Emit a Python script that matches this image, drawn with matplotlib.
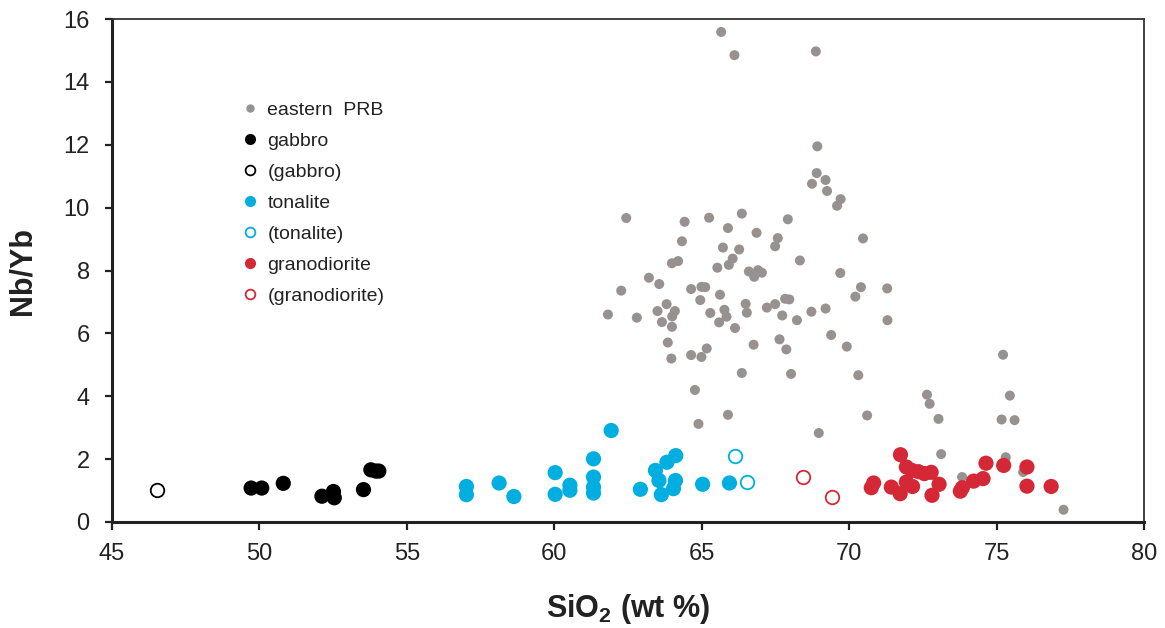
import matplotlib
matplotlib.use("Agg")
import matplotlib.pyplot as plt
from matplotlib.lines import Line2D

plt.rcParams['font.family'] = ['Liberation Sans', 'DejaVu Sans']
plt.rcParams['mathtext.default'] = 'regular'

# ---- data ----
prb_x = [65.66, 66.11, 68.87, 68.92, 68.90, 69.20, 68.74, 69.25, 69.71, 69.59,
         66.36, 62.44, 64.42, 65.25, 67.92, 65.89, 66.86, 67.58, 67.49, 70.47,
         64.33, 65.72, 66.27, 66.05, 65.92, 65.53, 64.20, 63.99, 68.33, 66.60,
         66.91, 67.04, 66.78, 69.70, 63.21, 63.56, 62.27, 64.64, 64.99, 65.12,
         70.40, 71.29, 70.21, 64.95, 65.62, 67.83, 67.97, 63.81, 66.49, 67.49,
         67.21, 69.20, 68.72, 63.50, 64.09, 64.00, 65.77, 66.53, 65.29, 65.84,
         67.73, 61.82, 62.80, 63.65, 63.99, 65.59, 68.23, 71.30, 66.13, 69.39,
         63.85, 66.76, 67.64, 67.87, 69.92, 65.17, 64.64, 64.99, 63.97, 66.36,
         68.03, 70.31, 64.77, 64.89, 65.89, 68.97, 70.61, 75.22, 72.64, 72.73,
         73.03, 75.45, 75.17, 75.61, 73.12, 75.31, 73.83, 75.90, 77.27]
prb_y = [15.59, 14.85, 14.97, 11.95, 11.10, 10.88, 10.76, 10.53, 10.27, 10.06,
         9.81, 9.67, 9.55, 9.68, 9.63, 9.35, 9.20, 9.03, 8.77, 9.02,
         8.93, 8.73, 8.67, 8.38, 8.18, 8.09, 8.30, 8.23, 8.32, 7.97,
         8.01, 7.93, 7.80, 7.92, 7.77, 7.57, 7.36, 7.41, 7.48, 7.47,
         7.47, 7.43, 7.17, 7.06, 7.23, 7.10, 7.08, 6.93, 6.94, 6.93,
         6.82, 6.79, 6.69, 6.71, 6.71, 6.54, 6.75, 6.66, 6.65, 6.53,
         6.57, 6.60, 6.50, 6.36, 6.21, 6.35, 6.42, 6.42, 6.17, 5.95,
         5.71, 5.64, 5.81, 5.49, 5.58, 5.52, 5.31, 5.25, 5.20, 4.74,
         4.71, 4.67, 4.20, 3.12, 3.41, 2.83, 3.39, 5.32, 4.05, 3.76,
         3.28, 4.02, 3.26, 3.24, 2.16, 2.06, 1.43, 1.59, 0.39]

gabbro_x = [49.72, 50.08, 50.81, 52.12, 52.51, 52.54, 53.53, 53.78, 53.95, 54.05]
gabbro_y = [1.08, 1.08, 1.23, 0.82, 0.97, 0.77, 1.03, 1.66, 1.62, 1.62]
gabbro_open_x = [46.52]
gabbro_open_y = [1.03]

tonalite_x = [57.02, 57.02, 58.13, 58.63, 60.03, 60.03, 60.53, 60.53, 61.33, 61.33,
              61.33, 61.33, 61.93, 62.92, 63.43, 63.55, 63.63, 63.82, 64.12, 64.11,
              64.04, 65.03, 65.94]
tonalite_y = [1.13, 0.87, 1.24, 0.81, 1.57, 0.88, 1.17, 1.01, 2.01, 1.43,
              1.11, 0.92, 2.91, 1.04, 1.64, 1.32, 0.87, 1.90, 2.11, 1.32,
              1.06, 1.20, 1.24]
tonalite_open_x = [66.13, 66.53]
tonalite_open_y = [2.09, 1.27]

grano_x = [70.83, 70.75, 71.74, 71.94, 72.13, 71.43, 71.73, 71.94, 72.15, 72.35,
           72.55, 72.78, 73.05, 72.81, 73.77, 73.84, 74.22, 74.54, 74.64, 75.24,
           76.03, 76.03, 76.85]
grano_y = [1.24, 1.09, 2.14, 1.75, 1.64, 1.11, 0.90, 1.27, 1.13, 1.60,
           1.54, 1.58, 1.20, 0.85, 0.98, 1.09, 1.30, 1.38, 1.87, 1.80,
           1.75, 1.14, 1.13]
grano_open_x = [68.42, 69.43]
grano_open_y = [1.43, 0.78]

x_ticks = [45, 50, 55, 60, 65, 70, 75, 80]
y_ticks = [0, 2, 4, 6, 8, 10, 12, 14, 16]

GRAY = '#97928f'
BLUE = '#00aedf'
RED = '#d52836'

fig = plt.figure(figsize=(11.65, 6.28), dpi=100)
ax = fig.add_axes([0.0961, 0.1688, 0.8859, 0.8009])

ax.scatter(prb_x, prb_y, s=52, color=GRAY, edgecolors='none', zorder=2)
big = 120
ax.scatter(gabbro_x, gabbro_y, s=big, color='black', edgecolors='none', zorder=3)
ax.scatter(gabbro_open_x, gabbro_open_y, s=95, facecolors='white', edgecolors='black', linewidths=1.3, zorder=3)
ax.scatter(tonalite_x, tonalite_y, s=big, color=BLUE, edgecolors='none', zorder=3)
ax.scatter(tonalite_open_x, tonalite_open_y, s=95, facecolors='white', edgecolors=BLUE, linewidths=1.3, zorder=3)
ax.scatter(grano_x, grano_y, s=big, color=RED, edgecolors='none', zorder=3)
ax.scatter(grano_open_x, grano_open_y, s=95, facecolors='white', edgecolors=RED, linewidths=1.3, zorder=3)

ax.set_xlim(45, 80)
ax.set_ylim(0, 16)
ax.set_xticks(x_ticks)
ax.set_yticks(y_ticks)
ax.tick_params(axis='both', labelsize=17, colors='#222222', direction='out', width=1.6)
ax.tick_params(axis='y', length=5, pad=11)
ax.tick_params(axis='x', length=6, pad=9)

for side in ['left', 'bottom']:
    ax.spines[side].set_linewidth(2.2)
    ax.spines[side].set_color('#222222')
for side in ['top', 'right']:
    ax.spines[side].set_linewidth(1.3)
    ax.spines[side].set_color('#333333')

ax.set_ylabel('Nb/Yb', fontsize=22, fontweight='bold', color='#222222')
ax.set_xlabel('SiO$_2$ (wt %)', fontsize=22, fontweight='bold', color='#222222')
ax.yaxis.set_label_coords(-0.072, 0.5)
ax.xaxis.set_label_coords(0.5, -0.140)

handles = [
    Line2D([], [], ls='none', marker='o', ms=6, mfc=GRAY, mec='none'),
    Line2D([], [], ls='none', marker='o', ms=8, mfc='black', mec='none'),
    Line2D([], [], ls='none', marker='o', ms=7, mfc='white', mec='black', mew=1.3),
    Line2D([], [], ls='none', marker='o', ms=8, mfc=BLUE, mec='none'),
    Line2D([], [], ls='none', marker='o', ms=7, mfc='white', mec=BLUE, mew=1.3),
    Line2D([], [], ls='none', marker='o', ms=8, mfc=RED, mec='none'),
    Line2D([], [], ls='none', marker='o', ms=7, mfc='white', mec=RED, mew=1.3),
]
labels = ['eastern  PRB', 'gabbro', '(gabbro)', 'tonalite', '(tonalite)',
          'granodiorite', '(granodiorite)']
leg = ax.legend(handles, labels, loc='upper left', bbox_to_anchor=(0.126, 0.837),
                frameon=False, fontsize=14, handlelength=0.8, handletextpad=0.5,
                labelspacing=0.69, borderpad=0, borderaxespad=0)
for t in leg.get_texts():
    t.set_color('#222222')

fig.savefig('out.png', dpi=100)
